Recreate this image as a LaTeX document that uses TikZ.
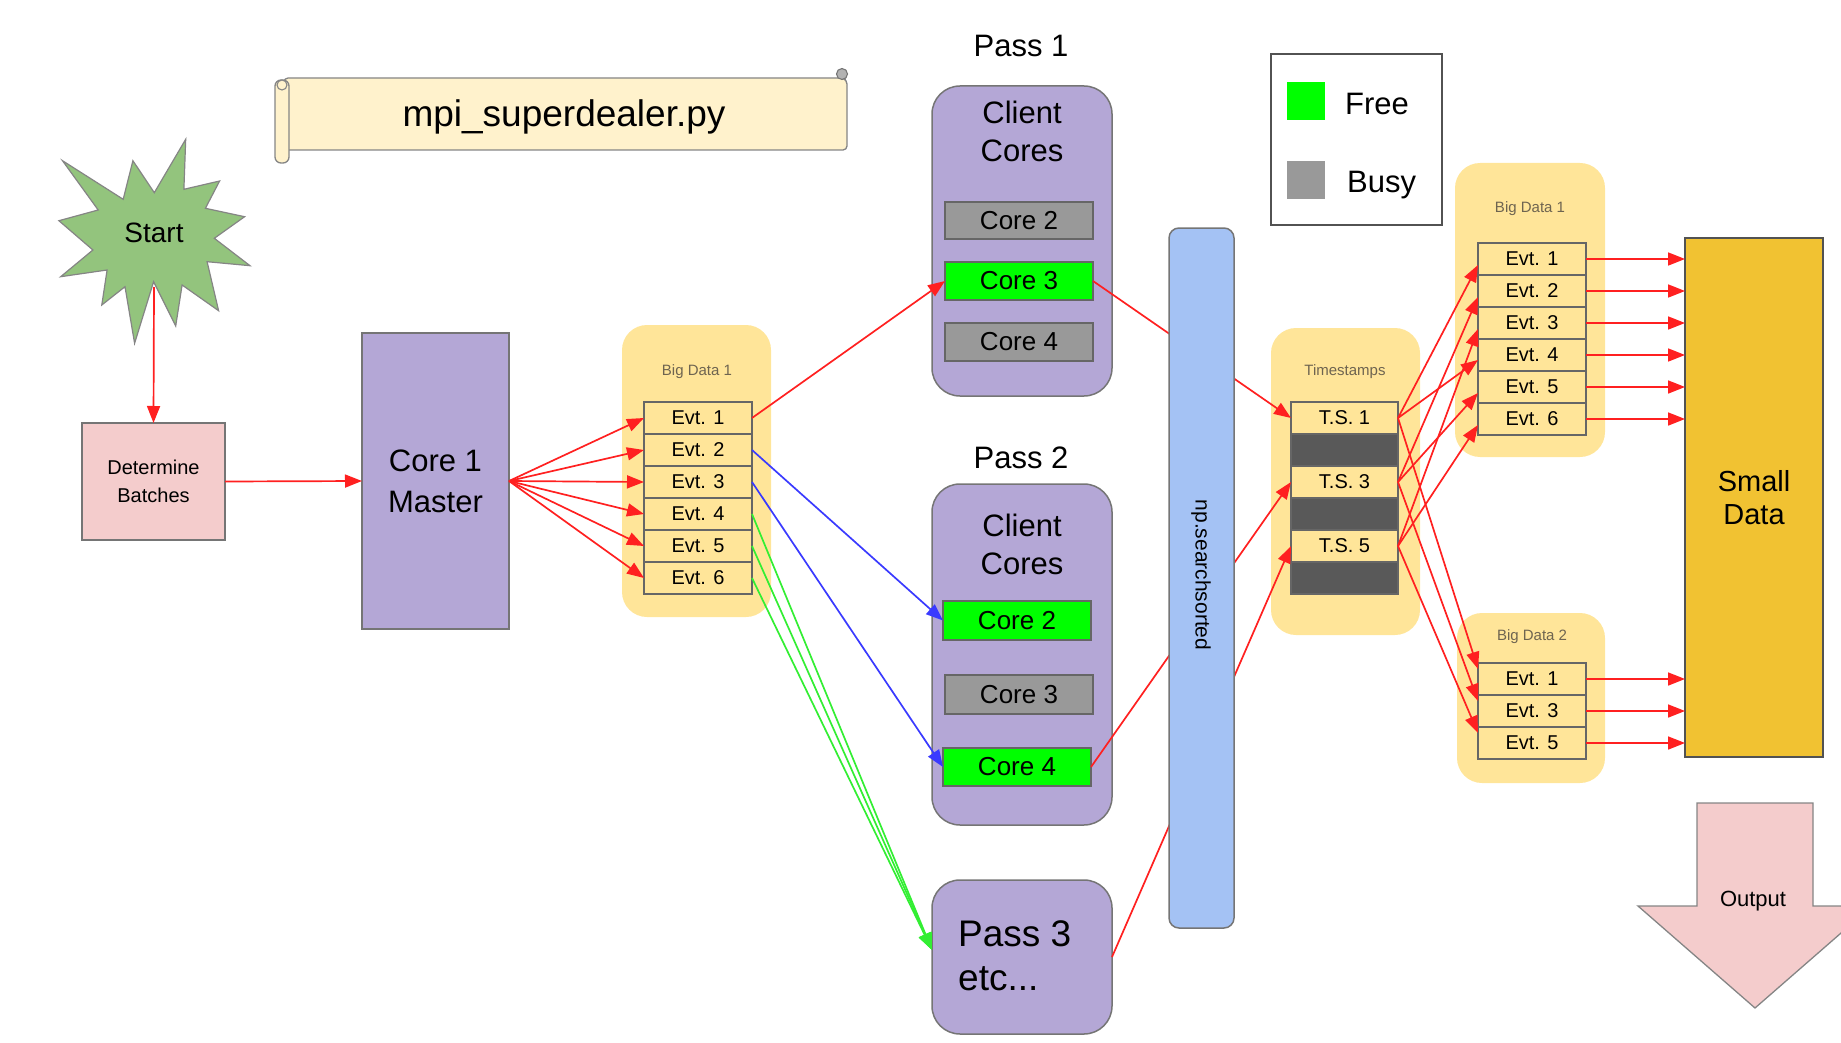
\documentclass[tikz,border=0pt]{standalone}
\usepackage{fontspec}
\setmainfont{Liberation Sans}
\usetikzlibrary{arrows.meta,calc}
\definecolor{purp}{HTML}{B4A7D6}
\definecolor{barblue}{HTML}{A4C2F4}
\definecolor{ylw}{HTML}{FFE599}
\definecolor{scrollc}{HTML}{FFF2CC}
\definecolor{freeg}{HTML}{00FF00}
\definecolor{busyg}{HTML}{999999}
\definecolor{darkg}{HTML}{595959}
\definecolor{starg}{HTML}{93C47D}
\definecolor{pinkc}{HTML}{F4CCCC}
\definecolor{goldc}{HTML}{F1C232}
\definecolor{edgec}{HTML}{666666}
\definecolor{lblc}{HTML}{6E6450}
\definecolor{lnred}{HTML}{FF2020}
\definecolor{lnblue}{HTML}{3A3AFF}
\definecolor{lngreen}{HTML}{33EE33}
\tikzset{
  cont/.style={fill=ylw, rounded corners=25pt, inner sep=0pt, outer sep=0pt},
  evtrow/.style={draw=edgec, fill=ylw, line width=1.8pt, minimum width=108pt, minimum height=32pt, inner sep=0pt, outer sep=0pt, font=\fontsize{20}{24}\selectfont},
  corebox/.style={draw=edgec, line width=1.5pt, minimum width=148pt, minimum height=38pt, inner sep=0pt, outer sep=0pt, font=\fontsize{26}{30}\selectfont},
  passbox/.style={draw=edgec!90, fill=purp, line width=1.5pt, rounded corners=28pt, minimum width=180pt, inner sep=0pt, outer sep=0pt},
  lbl/.style={text=lblc, font=\fontsize{15}{18}\selectfont, inner sep=0pt},
  bigtxt/.style={font=\fontsize{31}{38}\selectfont, align=center, inner sep=0pt},
  tip/.style={-{Triangle[length=17pt,width=13pt]}},
  rarr/.style={lnred, line width=1.7pt, tip},
  barr/.style={lnblue, line width=1.7pt, tip},
  garr/.style={lngreen, line width=1.7pt, tip},
}
\begin{document}
\begin{tikzpicture}[x=1pt,y=-1pt]
\useasboundingbox (0,0) rectangle (1841,1043);
\clip (0,0) rectangle (1841,1043);

% scroll
\draw[fill=scrollc, draw=edgec!80, line width=1.3pt, rounded corners=4pt] (284,78) -- (842,78) -- (847,80) -- (847,150) -- (284,150) -- cycle;
\draw[fill=scrollc, draw=edgec!80, line width=1.3pt, rounded corners=6pt] (275,80) rectangle (289,163);
\draw[fill=scrollc, draw=edgec!80, line width=1.1pt] (282,85) circle (5);
\draw[fill=edgec!50, draw=edgec!90, line width=1.1pt] (842,74) circle (5.5);
\node[font=\fontsize{37}{44}\selectfont, inner sep=0pt] (title) at (564,117) {mpi\_superdealer.py};

% start star
\draw[fill=starg, draw=edgec!80, line width=1.2pt] (62.5,160.7) -- (123.2,199.3) -- (132.9,160.7) -- (154.3,192.7) -- (185.7,139.3) -- (183.9,189.3) -- (219.6,181) -- (205.4,208.3) -- (244.6,216.7) -- (214.3,238.3) -- (250,265.7) -- (207.1,261.7) -- (218.6,310.7) -- (182.1,285) -- (175.7,326) -- (153.6,281.7) -- (134.6,343.3) -- (125,286.7) -- (101.8,305) -- (107.1,270) -- (60.7,276.7) -- (92.9,250) -- (58.9,220.7) -- (98.2,210) -- cycle;
\node[font=\fontsize{28}{32}\selectfont, inner sep=0pt] (start) at (154,233) {Start};
\coordinate (startbot) at (154,287);

% determine batches
\node[draw=edgec!90, fill=pinkc, line width=1.5pt, minimum width=143pt, minimum height=117pt, inner sep=0pt, outer sep=0pt, align=center, font=\fontsize{20}{28}\selectfont] (db) at (153.5,481.5) {Determine\\Batches};

% core 1 master
\node[draw=edgec!90, fill=purp, line width=1.5pt, minimum width=147pt, minimum height=296pt, inner sep=0pt, outer sep=0pt, align=center, font=\fontsize{31}{41}\selectfont] (core1) at (435.5,481) {Core 1\\Master};

% big data 1 (left)
\node[cont, minimum width=149pt, minimum height=292pt] (bdl) at (696.5,471) {};
\node[lbl] (bdllbl) at (697,372) {Big Data 1};
\foreach \i/\y in {1/418,2/450,3/482,4/514,5/546,6/578}
  \node[evtrow] (le\i) at (698,\y) {Evt. \i};

% pass 1
\node[bigtxt] (p1lbl) at (1021,46) {Pass 1};
\node[passbox, minimum height=310pt] (p1) at (1022,241) {};
\node[bigtxt] (p1cc) at (1022,131) {Client\\Cores};
\node[corebox, fill=busyg, minimum height=37pt] (p1c2) at (1019,220.5) {Core 2};
\node[corebox, fill=freeg] (p1c3) at (1019,281) {Core 3};
\node[corebox, fill=busyg] (p1c4) at (1019,342) {Core 4};

% pass 2
\node[bigtxt] (p2lbl) at (1021,458) {Pass 2};
\node[passbox, minimum height=341pt] (p2) at (1022,654.5) {};
\node[bigtxt] (p2cc) at (1022,544.5) {Client\\Cores};
\node[corebox, fill=freeg, minimum height=39pt] (p2c2) at (1017,620.5) {Core 2};
\node[corebox, fill=busyg, minimum height=39pt] (p2c3) at (1019,694.5) {Core 3};
\node[corebox, fill=freeg] (p2c4) at (1017,767) {Core 4};

% pass 3
\node[passbox, minimum height=154pt] (p3) at (1022,957) {};
\node[anchor=west, align=left, inner sep=0pt, font=\fontsize{37}{44}\selectfont] (p3txt) at (958,956) {Pass 3\\etc...};

% timestamps
\node[cont, minimum width=149pt, minimum height=307pt] (tsc) at (1345.5,481.5) {};
\node[lbl] (tslbl) at (1345,372) {Timestamps};
\node[evtrow, minimum width=107pt] (ts1) at (1344.5,418) {T.S. 1};
\node[evtrow, minimum width=107pt, fill=darkg] (tsd1) at (1344.5,450) {};
\node[evtrow, minimum width=107pt] (ts3) at (1344.5,482) {T.S. 3};
\node[evtrow, minimum width=107pt, fill=darkg] (tsd2) at (1344.5,514) {};
\node[evtrow, minimum width=107pt] (ts5) at (1344.5,546) {T.S. 5};
\node[evtrow, minimum width=107pt, fill=darkg] (tsd3) at (1344.5,578) {};

% legend
\node[draw=edgec!80!black, line width=2pt, minimum width=171pt, minimum height=171pt, inner sep=0pt, outer sep=0pt] (legend) at (1356.5,139.5) {};
\node[fill=freeg, minimum width=38pt, minimum height=38pt, inner sep=0pt] (lgfree) at (1306,101) {};
\node[fill=busyg, minimum width=38pt, minimum height=38pt, inner sep=0pt] (lgbusy) at (1306,180.5) {};
\node[anchor=west, inner sep=0pt, font=\fontsize{31}{36}\selectfont] (lgfreet) at (1345,104) {Free};
\node[anchor=west, inner sep=0pt, font=\fontsize{31}{36}\selectfont] (lgbusyt) at (1347,185) {Busy};

% big data 1 (right)
\node[cont, minimum width=150pt, minimum height=294pt] (bdr) at (1530,310) {};
\node[lbl] (bdrlbl) at (1530,209) {Big Data 1};
\foreach \i/\y in {1/259,2/291,3/323,4/355,5/387,6/419}
  \node[evtrow] (re\i) at (1532,\y) {Evt. \i};

% big data 2
\node[cont, minimum width=148pt, minimum height=170pt] (bd2) at (1531,698) {};
\node[lbl] (bd2lbl) at (1532,637) {Big Data 2};
\node[evtrow] (se1) at (1532,679) {Evt. 1};
\node[evtrow] (se3) at (1532,711) {Evt. 3};
\node[evtrow] (se5) at (1532,743) {Evt. 5};

% small data
\node[draw=edgec!80!black, fill=goldc, line width=1.8pt, minimum width=138pt, minimum height=519pt, inner sep=0pt, outer sep=0pt, align=center, font=\fontsize{29}{33}\selectfont] (small) at (1754,497.5) {Small\\Data};

% output arrow
\draw[fill=pinkc, draw=edgec!80, line width=1.3pt] (1697,803) -- (1813,803) -- (1813,906) -- (1872,906) -- (1755,1008) -- (1638,906) -- (1697,906) -- cycle;
\node[font=\fontsize{22}{26}\selectfont, inner sep=0pt] (output) at (1753,901) {Output};

% connectors
\draw[rarr] (startbot) -- (db.north);
\draw[rarr] (db.east) -- (core1.west);
\foreach \i in {1,...,6} \draw[rarr] (core1.east) -- (le\i.west);
\draw[rarr] (le1.east) -- (p1c3.west);
\draw[barr] (le2.east) -- (p2c2.west);
\draw[barr] (le3.east) -- (p2c4.west);
\foreach \i in {4,5,6} \draw[garr] (le\i.east) -- ([yshift=7pt]p3.west);

\draw[rarr] (p1c3.east) -- (ts1.west);
\draw[rarr] (p2c4.east) -- (ts3.west);
\draw[rarr] (p3.east) -- (ts5.west);

% np.searchsorted bar (drawn over the lines that pass behind it)
\node[draw=edgec!90, fill=barblue, line width=1.5pt, rounded corners=10pt, minimum width=65pt, minimum height=700pt, inner sep=0pt, outer sep=0pt] (bar) at (1201.5,578) {};
\node[rotate=-90, inner sep=0pt, font=\fontsize{21}{24}\selectfont] (bartxt) at (1201,575) {np.searchsorted};

\draw[rarr] (ts1.east) -- ([yshift=-6pt]re1.west);
\draw[rarr] (ts1.east) -- ([yshift=-5pt]re4.west);
\draw[rarr] (ts3.east) -- ([yshift=-6pt]re2.west);
\draw[rarr] (ts3.east) -- ([yshift=-6pt]re5.west);
\draw[rarr] (ts5.east) -- ([yshift=-6pt]re3.west);
\draw[rarr] (ts5.east) -- ([yshift=-6pt]re6.west);
\draw[rarr] (ts1.east) -- ([yshift=10pt]se1.west);
\draw[rarr] (ts3.east) -- ([yshift=10pt]se3.west);
\draw[rarr] (ts5.east) -- ([yshift=10pt]se5.west);

\foreach \i in {1,...,6} \draw[rarr] (re\i.east) -- (re\i.east -| small.west);
\foreach \i in {1,3,5} \draw[rarr] (se\i.east) -- (se\i.east -| small.west);
\end{tikzpicture}
\end{document}
